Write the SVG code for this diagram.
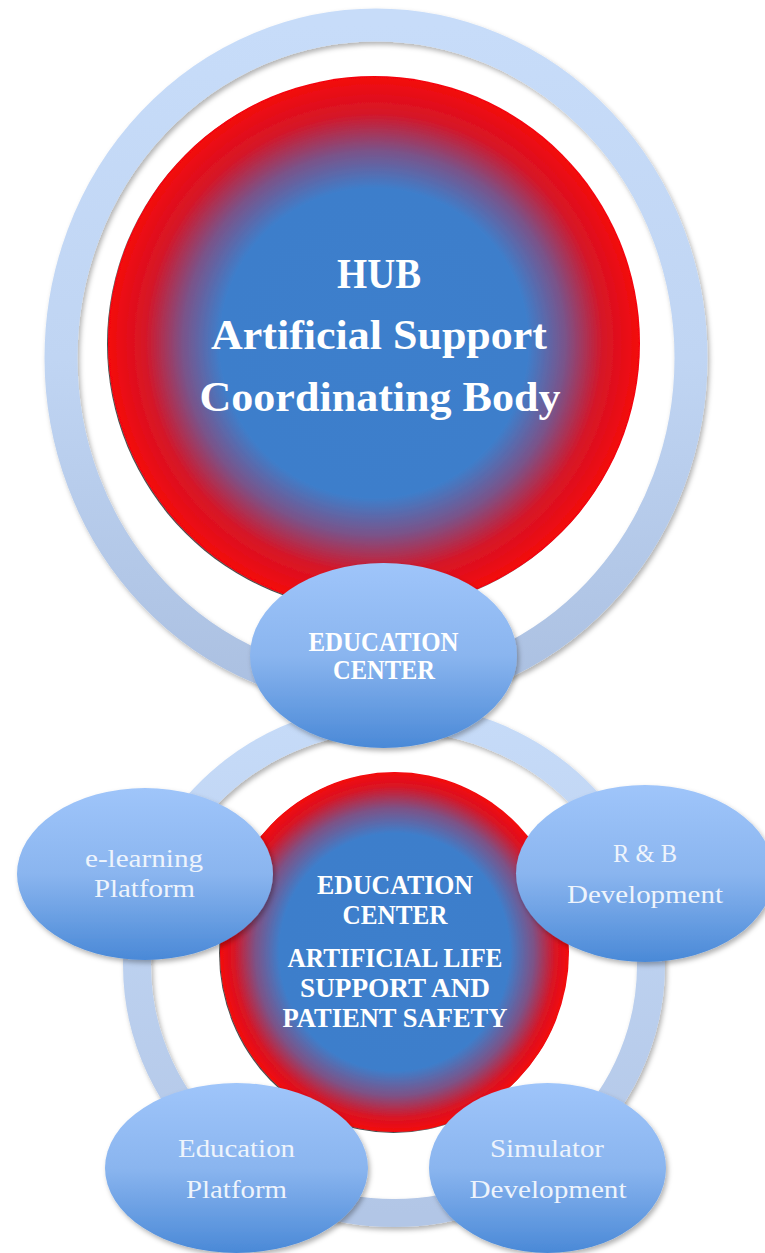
<svg xmlns="http://www.w3.org/2000/svg" width="765" height="1253" viewBox="0 0 765 1253">
  <defs>
    <linearGradient id="ringTop" x1="0" y1="0" x2="0" y2="1">
      <stop offset="0" stop-color="#c7dcf9"/>
      <stop offset="0.5" stop-color="#c0d5f3"/>
      <stop offset="1" stop-color="#abc0e1"/>
    </linearGradient>
    <linearGradient id="ringLow" x1="0" y1="0" x2="0" y2="1">
      <stop offset="0" stop-color="#c6dbf8"/>
      <stop offset="1" stop-color="#b2c6e6"/>
    </linearGradient>
    <radialGradient id="coreTop" cx="0.5" cy="0.5" r="0.5">
      <stop offset="0" stop-color="#3d7fcc"/>
      <stop offset="0.58" stop-color="#3e7ecb"/>
      <stop offset="0.72" stop-color="#7a5389"/>
      <stop offset="0.86" stop-color="#d51628"/>
      <stop offset="1" stop-color="#f4060b"/>
    </radialGradient>
    <radialGradient id="coreLow" cx="0.5" cy="0.5" r="0.5">
      <stop offset="0" stop-color="#3d7fcc"/>
      <stop offset="0.66" stop-color="#3e7ecb"/>
      <stop offset="0.8" stop-color="#7d5286"/>
      <stop offset="0.92" stop-color="#d81525"/>
      <stop offset="1" stop-color="#f4060b"/>
    </radialGradient>
    <linearGradient id="bubble" x1="0" y1="0" x2="0" y2="1">
      <stop offset="0" stop-color="#9fc5fa"/>
      <stop offset="0.5" stop-color="#8ab5ef"/>
      <stop offset="1" stop-color="#4a89d7"/>
    </linearGradient>
    <filter id="shadow" x="-10%" y="-10%" width="125%" height="125%">
      <feDropShadow dx="2" dy="3" stdDeviation="2.5" flood-color="#000" flood-opacity="0.3"/>
    </filter>
    <filter id="edge" x="-5%" y="-5%" width="110%" height="110%">
      <feDropShadow dx="-1" dy="1" stdDeviation="0.6" flood-color="#000" flood-opacity="0.7"/>
    </filter>
  </defs>
  <style>
    .ring { fill: none; }
    .bubble { fill: url(#bubble); filter: url(#shadow); }
    .bold { font-family: "Liberation Serif", "DejaVu Serif", serif; font-weight: bold; fill: #ffffff; text-anchor: middle; }
    .plain { font-family: "Liberation Serif", "DejaVu Serif", serif; font-weight: normal; fill: #eef4fc; text-anchor: middle; font-size: 26px; }
  </style>

  <rect width="765" height="1253" fill="#ffffff"/>

  <!-- rings linking the hub and the education centre -->
  <g id="connectors">
    <ellipse class="ring" cx="376" cy="358" rx="315" ry="333" stroke="url(#ringTop)" stroke-width="33" filter="url(#shadow)"/>
    <ellipse class="ring" cx="394" cy="965" rx="257" ry="248" stroke="url(#ringLow)" stroke-width="28" filter="url(#shadow)"/>
  </g>

  <!-- coordinating hub -->
  <g id="hub">
    <ellipse cx="374" cy="343" rx="266" ry="267" fill="url(#coreTop)" filter="url(#edge)"/>
    <text class="bold" x="379" y="288" font-size="42" textLength="84" lengthAdjust="spacingAndGlyphs">HUB</text>
    <text class="bold" x="379" y="349" font-size="42" textLength="336" lengthAdjust="spacingAndGlyphs">Artificial Support</text>
    <text class="bold" x="380" y="411" font-size="42" textLength="361" lengthAdjust="spacingAndGlyphs">Coordinating Body</text>
  </g>

  <!-- central education centre -->
  <g id="center-core">
    <ellipse cx="394.5" cy="952" rx="174.5" ry="180" fill="url(#coreLow)" filter="url(#edge)"/>
    <text class="bold" x="395" y="894" font-size="27" textLength="156" lengthAdjust="spacingAndGlyphs">EDUCATION</text>
    <text class="bold" x="395" y="924" font-size="27" textLength="105" lengthAdjust="spacingAndGlyphs">CENTER</text>
    <text class="bold" x="395" y="967" font-size="27" textLength="215" lengthAdjust="spacingAndGlyphs">ARTIFICIAL LIFE</text>
    <text class="bold" x="395" y="997" font-size="27" textLength="190" lengthAdjust="spacingAndGlyphs">SUPPORT AND</text>
    <text class="bold" x="395" y="1027" font-size="27" textLength="225" lengthAdjust="spacingAndGlyphs">PATIENT SAFETY</text>
  </g>

  <g id="education-center">
    <ellipse class="bubble" cx="383.5" cy="655.5" rx="133.5" ry="92.5"/>
    <text class="bold" x="383.5" y="651" font-size="27" textLength="150" lengthAdjust="spacingAndGlyphs">EDUCATION</text>
    <text class="bold" x="384" y="679" font-size="27" textLength="102" lengthAdjust="spacingAndGlyphs">CENTER</text>
  </g>

  <g id="e-learning">
    <ellipse class="bubble" cx="145" cy="874" rx="128" ry="86"/>
    <text class="plain" x="144" y="867" textLength="118" lengthAdjust="spacingAndGlyphs">e-learning</text>
    <text class="plain" x="144.5" y="897" textLength="101" lengthAdjust="spacingAndGlyphs">Platform</text>
  </g>

  <g id="rb-development">
    <ellipse class="bubble" cx="645" cy="873.5" rx="129" ry="88.5"/>
    <text class="plain" x="645" y="862" textLength="64" lengthAdjust="spacingAndGlyphs">R &amp; B</text>
    <text class="plain" x="645" y="903" textLength="156" lengthAdjust="spacingAndGlyphs">Development</text>
  </g>

  <g id="education-platform">
    <ellipse class="bubble" cx="236.5" cy="1168" rx="131.5" ry="85"/>
    <text class="plain" x="236.5" y="1157" textLength="117" lengthAdjust="spacingAndGlyphs">Education</text>
    <text class="plain" x="236.5" y="1198" textLength="101" lengthAdjust="spacingAndGlyphs">Platform</text>
  </g>

  <g id="simulator-development">
    <ellipse class="bubble" cx="547.5" cy="1168" rx="118.5" ry="85"/>
    <text class="plain" x="547" y="1157" textLength="114" lengthAdjust="spacingAndGlyphs">Simulator</text>
    <text class="plain" x="548" y="1198" textLength="157" lengthAdjust="spacingAndGlyphs">Development</text>
  </g>
</svg>
